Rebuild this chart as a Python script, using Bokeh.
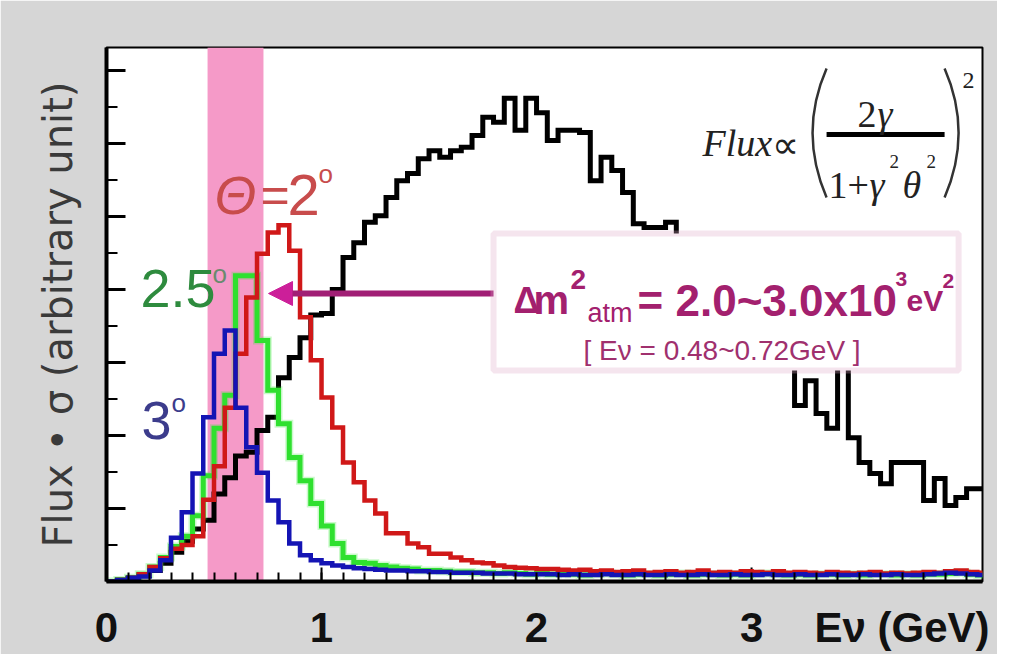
import numpy as np
from bokeh.plotting import figure
from bokeh.models import Range1d, FixedTicker, BoxAnnotation, Label, Arrow, NormalHead
from bokeh.embed import file_html
from bokeh.resources import INLINE

# ---------------- data (0.05 GeV bins starting at 0) ----------------
bin_width = 0.05
flux_black = [0.0, 0.02, 0.04, 0.08, 0.15, 0.25, 0.40, 0.55,
              0.72, 0.84, 1.20, 1.42, 1.72, 1.77, 2.07, 2.25,
              2.79, 3.07, 3.34, 3.65, 3.67, 4.00, 4.44, 4.64,
              4.92, 5.01, 5.26, 5.49, 5.59, 5.79, 5.90, 5.81,
              5.90, 5.95, 6.11, 6.36, 6.29, 6.62, 6.18, 6.62,
              6.42, 6.04, 6.18, 6.18, 6.15, 5.49, 5.81, 5.63,
              5.33, 4.90, 4.85, 4.85, 4.92, 4.62, 4.48, 4.30,
              4.38, 4.05, 3.90, 3.72, 3.80, 3.55, 3.40, 3.20,
              2.41, 2.75, 2.30, 2.10, 2.95, 1.97, 1.63, 1.48,
              1.34, 1.63, 1.63, 1.63, 1.11, 1.41, 1.04, 1.15,
              1.27, 1.27]
flux_red = [0.0, 0.02, 0.05, 0.10, 0.20, 0.32, 0.45, 0.50,
            0.62, 1.12, 1.58, 2.38, 3.12, 3.89, 4.49, 4.78,
            4.88, 4.53, 3.62, 3.03, 2.52, 2.11, 1.63, 1.36,
            1.11, 0.93, 0.66, 0.66, 0.52, 0.47, 0.38, 0.38,
            0.33, 0.29, 0.26, 0.25, 0.22, 0.20, 0.19, 0.18,
            0.17, 0.17, 0.16, 0.15, 0.16, 0.14, 0.15, 0.13,
            0.14, 0.15, 0.12, 0.13, 0.14, 0.12, 0.13, 0.15,
            0.12, 0.13, 0.12, 0.14, 0.13, 0.12, 0.14, 0.12,
            0.13, 0.12, 0.11, 0.13, 0.12, 0.11, 0.12, 0.13,
            0.11, 0.12, 0.11, 0.12, 0.13, 0.12, 0.14, 0.15,
            0.13, 0.12]
flux_green = [0.0, 0.02, 0.05, 0.10, 0.20, 0.33, 0.48, 0.62,
              0.90, 1.45, 2.10, 2.55, 4.19, 4.19, 3.30, 2.62,
              2.16, 1.70, 1.38, 1.07, 0.76, 0.52, 0.33, 0.26,
              0.25, 0.22, 0.20, 0.18, 0.17, 0.15, 0.15, 0.14,
              0.13, 0.13, 0.12, 0.12, 0.11, 0.12, 0.11, 0.10,
              0.11, 0.10, 0.11, 0.10, 0.09, 0.10, 0.11, 0.10,
              0.09, 0.10, 0.10, 0.09, 0.10, 0.11, 0.09, 0.10,
              0.10, 0.09, 0.10, 0.09, 0.10, 0.11, 0.10, 0.09,
              0.10, 0.09, 0.10, 0.10, 0.09, 0.10, 0.09, 0.10,
              0.10, 0.09, 0.10, 0.09, 0.10, 0.10, 0.11, 0.12,
              0.10, 0.09]
flux_blue = [0.0, 0.02, 0.05, 0.07, 0.15, 0.29, 0.60, 0.95,
             1.48, 2.25, 3.12, 3.44, 2.38, 1.84, 1.49, 1.11,
             0.81, 0.52, 0.36, 0.29, 0.25, 0.22, 0.20, 0.18,
             0.17, 0.16, 0.15, 0.15, 0.14, 0.14, 0.13, 0.13,
             0.12, 0.12, 0.12, 0.11, 0.11, 0.11, 0.10, 0.10,
             0.10, 0.10, 0.09, 0.10, 0.09, 0.09, 0.10, 0.09,
             0.09, 0.10, 0.09, 0.09, 0.10, 0.09, 0.09, 0.10,
             0.09, 0.09, 0.10, 0.09, 0.09, 0.10, 0.09, 0.09,
             0.10, 0.09, 0.09, 0.10, 0.09, 0.09, 0.10, 0.09,
             0.09, 0.10, 0.09, 0.09, 0.10, 0.11, 0.12, 0.11,
             0.10, 0.09]
x_tick_values = [0, 1, 2, 3]
x_unit_pos = 3.70                   # where "Eν (GeV)" sits on the x axis
x_minor_values = [round(0.1 * i, 1) for i in range(1, 41)]
y_major_values = [1, 2, 3, 4, 5, 6, 7]
y_minor_values = [0.5, 1.5, 2.5, 3.5, 4.5, 5.5, 6.5]
band_lo, band_hi = 0.47, 0.73      # pink window, GeV
x_max, y_max = 4.074, 7.315

# ---------------- figure ----------------
BG = "#d6d6d6"
p = figure(width=997, height=654, output_backend="svg", toolbar_location=None,
           x_range=Range1d(0, x_max), y_range=Range1d(0, y_max),
           min_border_left=106, min_border_right=15, min_border_top=47, min_border_bottom=73,
           background_fill_color="white", border_fill_color=BG)
p.grid.visible = False
p.outline_line_color = "black"
p.outline_line_width = 2

# x axis: labelled ticks 0..3 plus the unit text, 0.1 GeV minor ticks (inside)
p.xaxis.ticker = FixedTicker(ticks=x_tick_values + [x_unit_pos], minor_ticks=x_minor_values)
p.xaxis.major_label_overrides = {**{v: str(v) for v in x_tick_values}, x_unit_pos: "Eν (GeV)"}
p.xaxis.axis_line_width = 4
p.xaxis.major_tick_line_color = None
p.xaxis.minor_tick_line_width = 2
p.xaxis.minor_tick_in = 9
p.xaxis.minor_tick_out = 0
p.xaxis.major_label_text_font = "Liberation Sans"
p.xaxis.major_label_text_font_size = "42px"
p.xaxis.major_label_text_font_style = "bold"
p.xaxis.major_label_text_color = "#111111"
p.xaxis.major_label_standoff = 16

# y axis: line + title only; ticks drawn inside the frame below
p.yaxis.ticker = FixedTicker(ticks=[], minor_ticks=[])
p.yaxis.axis_line_width = 4
p.yaxis.axis_label = "Flux • σ (arbitrary unit)"
p.yaxis.axis_label_text_font = "DejaVu Sans"
p.yaxis.axis_label_text_font_size = "40px"
p.yaxis.axis_label_text_font_style = "normal"
p.yaxis.axis_label_text_color = "#3a3a3a"
p.yaxis.axis_label_standoff = 26

# pixel helpers for decorations (page pixels -> data)
def X(px):
    return (px - 106) / 215.0
def Y(py):
    return (581 - py) / 73.0

p.segment(x0=[0] * len(y_major_values), y0=y_major_values,
          x1=[X(125)] * len(y_major_values), y1=y_major_values, line_color="black", line_width=3)
p.segment(x0=[0] * len(y_minor_values), y0=y_minor_values,
          x1=[X(117)] * len(y_minor_values), y1=y_minor_values, line_color="black", line_width=2)
p.segment(x0=x_tick_values[1:], y0=[0] * 3, x1=x_tick_values[1:], y1=[Y(567)] * 3,
          line_color="black", line_width=2)

# pink energy window
p.add_layout(BoxAnnotation(left=band_lo, right=band_hi, fill_color="#f59ac8",
                           fill_alpha=1.0, line_alpha=0, level="underlay"))

def series(vals, color, width, alpha=1.0):
    edges = list(np.arange(len(vals) + 1) * bin_width)
    ys = list(vals) + [vals[-1]]
    p.step(x=edges, y=ys, mode="after", line_color=color, line_width=width,
           line_alpha=alpha, line_join="miter")

series(flux_black, "black", 5)
series(flux_green, "#2ee62e", 8, 0.25)
series(flux_green, "#2fe02f", 5)
series(flux_red, "#d01818", 4.5)
series(flux_blue, "#1414b4", 4.5)

def lab(px, py, text, size, color, font="Liberation Sans", style="normal",
        align="left", baseline="alphabetic"):
    p.add_layout(Label(x=X(px), y=Y(py), text=text, text_font=font,
                       text_font_size=f"{size}px", text_font_style=style,
                       text_color=color, text_align=align, text_baseline=baseline))

# arrow and box
p.add_layout(Arrow(x_start=X(494), y_start=Y(293), x_end=X(268), y_end=Y(293),
                   line_color="#a11f75", line_width=6,
                   end=NormalHead(size=24, fill_color="#cc1f99", line_color="#cc1f99")))
p.add_layout(BoxAnnotation(left=X(493), right=X(958), top=Y(233), bottom=Y(370),
                           fill_color="white", fill_alpha=1.0,
                           line_color="#ddaac6", line_width=6))

MAG = "#a3206e"
lab(513, 300, "Δ", 36, MAG, style="bold")
lab(533, 300, "m", 40, MAG, style="bold")
lab(570, 279, "2", 28, MAG, style="bold")
lab(587, 313, "atm", 27, MAG)
lab(637, 300, "= 2.0~3.0x10", 44, MAG, style="bold")
lab(895, 279, "3", 21, MAG, style="bold")
lab(906, 300, "eV", 30, MAG, style="bold")
lab(942, 281, "2", 21, MAG, style="bold")
lab(583, 350, "[ Eν = 0.48~0.72GeV ]", 28, "#a0306e")

# angle labels
RED_T, GRN_T, BLU_T = "#c84c4c", "#2e8b3e", "#3c3c8c"
lab(214, 195, "Θ", 54, RED_T, style="italic")
lab(260, 195, "=", 50, RED_T)
lab(287, 195, "2", 58, RED_T)
lab(318, 174, "o", 26, RED_T)
lab(140, 288, "2.5", 54, GRN_T)
lab(212, 274, "o", 26, "#6a8a6e")
lab(141, 420, "3", 54, BLU_T)
lab(171, 403, "o", 26, BLU_T)

# formula
SER = "Liberation Serif"
INK = "#222222"
lab(702, 143, "Flux", 38, INK, font=SER, style="italic")
lab(771, 145, "∝", 38, INK, font=SER)
lab(857, 114, "2", 38, INK, font=SER)
lab(877, 114, "γ", 38, INK, font=SER, style="italic")
lab(828, 185, "1+", 38, INK, font=SER)
lab(869, 185, "γ", 38, INK, font=SER, style="italic")
lab(889, 161, "2", 19, INK, font=SER)
lab(902, 185, "θ", 38, INK, font=SER, style="italic")
lab(926, 161, "2", 19, INK, font=SER)
lab(962, 80, "2", 24, INK, font=SER)
p.segment(x0=[X(826)], y0=[Y(134)], x1=[X(944)], y1=[Y(134)], line_color="black", line_width=5)
p.quadratic(x0=[X(826), X(944)], y0=[Y(68), Y(68)], x1=[X(826), X(944)], y1=[Y(197), Y(197)],
            cx=[X(798), X(972)], cy=[Y(132), Y(132)], line_color="#333333", line_width=2.5)

open("out.html", "w").write(file_html(p, INLINE))
